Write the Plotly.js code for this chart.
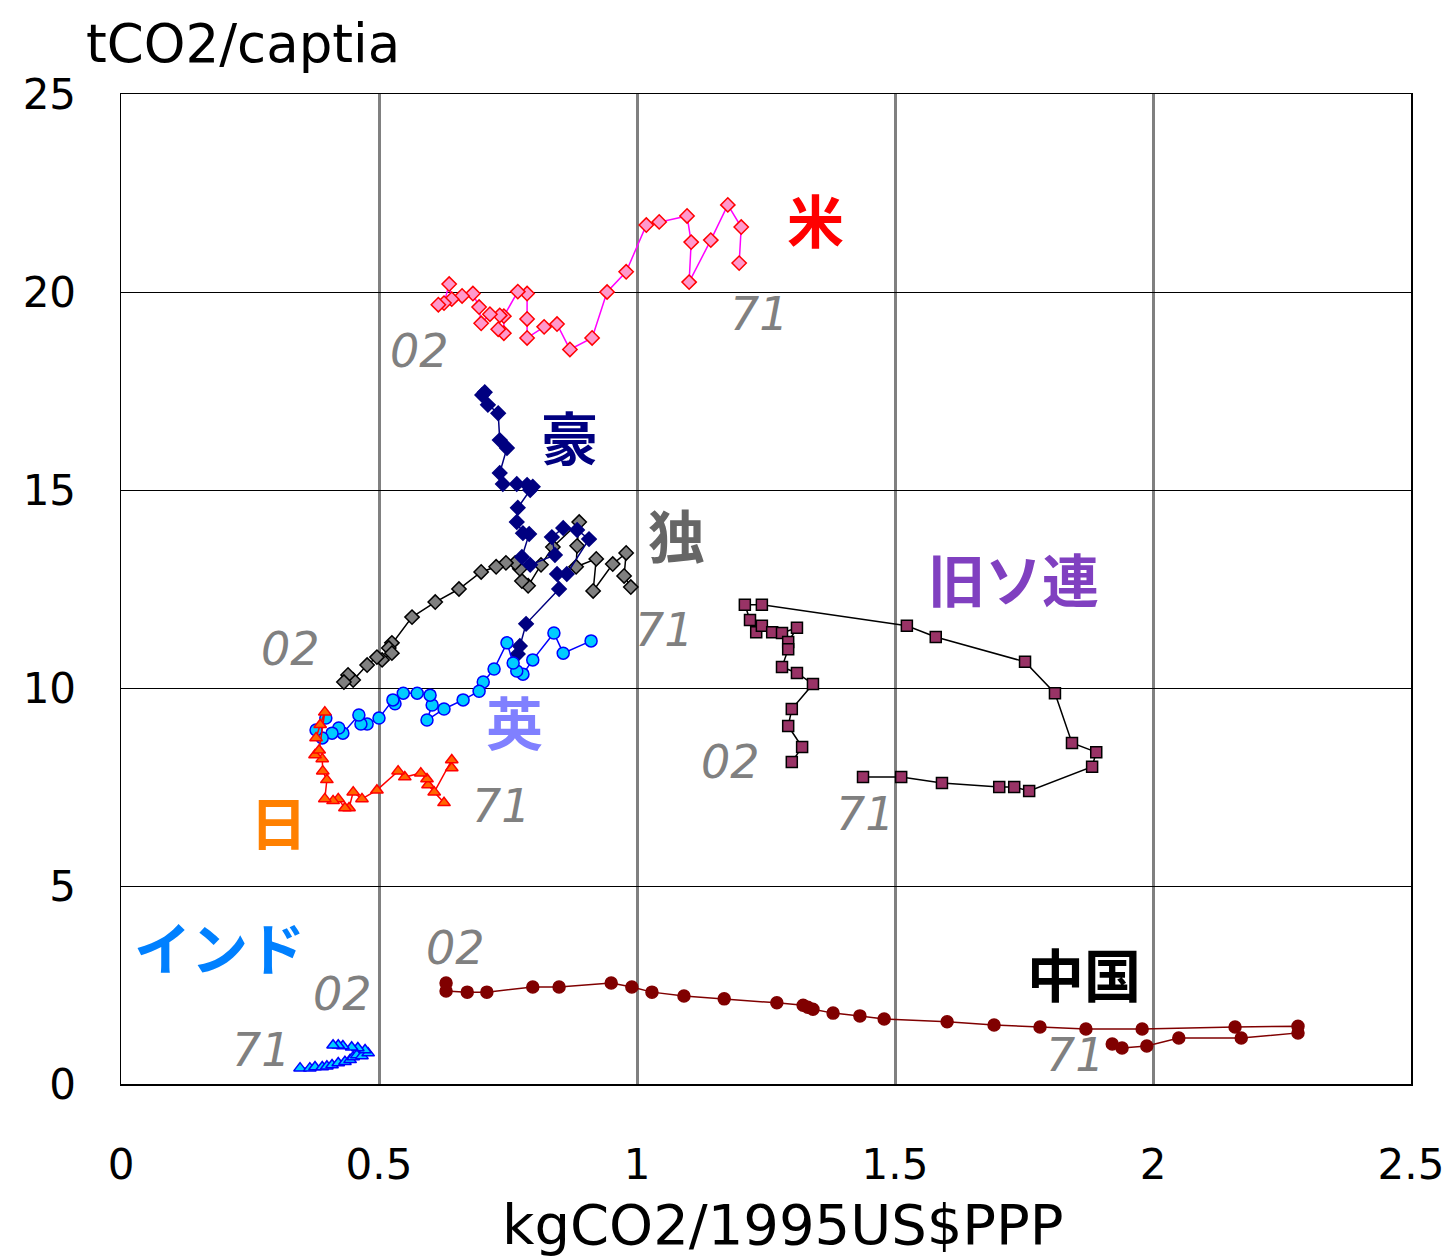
<!DOCTYPE html>
<html>
<head>
<meta charset="utf-8">
<script src="https://cdn.plot.ly/plotly-3.0.1.min.js"></script>
<style>html,body{margin:0;padding:0;background:#fff;}#chart{width:1452px;height:1260px;}</style>
</head>
<body>
<div id="chart"></div>
<script>
// Carbon intensity (kgCO2/1995US$PPP) vs per-capita emissions (tCO2/capita), 1971-2002
const usX = [1.198,1.202,1.176,1.143,1.101,1.105,1.097,1.043,1.018,0.979,0.942,0.913,0.870,0.845,0.820,0.787,0.787,0.787,0.769,0.742,0.742,0.731,0.734,0.715,0.698,0.694,0.682,0.661,0.641,0.636,0.626,0.615];
const usY = [20.73,21.64,22.20,21.31,20.25,21.26,21.92,21.77,21.69,20.51,20.00,18.84,18.55,19.19,19.12,18.84,19.32,19.96,20.01,19.39,18.96,19.06,19.41,19.44,19.21,19.62,19.96,19.90,19.82,20.20,19.72,19.68];

const auX = [0.769,0.773,0.785,0.849,0.845,0.864,0.907,0.884,0.857,0.835,0.841,0.793,0.777,0.791,0.779,0.767,0.769,0.793,0.798,0.787,0.767,0.740,0.734,0.748,0.734,0.731,0.711,0.700,0.705];
const auY = [10.86,11.06,11.62,12.50,12.88,12.88,13.76,13.99,14.04,13.81,13.36,13.11,13.31,13.89,13.91,14.19,14.55,15.00,15.08,15.13,15.15,15.15,15.43,16.06,16.26,16.94,17.15,17.40,17.47];

const deX = [0.988,0.975,0.979,0.953,0.915,0.921,0.882,0.884,0.888,0.837,0.814,0.789,0.777,0.773,0.764,0.746,0.727,0.698,0.655,0.609,0.564,0.525,0.519,0.525,0.506,0.496,0.477,0.450,0.440,0.432];
const deY = [12.55,12.83,13.41,13.13,12.45,13.26,13.06,13.59,14.19,13.56,13.11,12.58,12.70,13.01,13.16,13.16,13.06,12.93,12.50,12.17,11.79,11.14,11.01,10.88,10.71,10.78,10.58,10.20,10.33,10.15];

const ukX = [0.911,0.857,0.839,0.798,0.779,0.767,0.760,0.748,0.723,0.702,0.694,0.663,0.626,0.593,0.603,0.599,0.574,0.547,0.531,0.527,0.500,0.477,0.465,0.461,0.430,0.422,0.409,0.390,0.378,0.397];
const ukY = [11.19,10.88,11.39,10.71,10.35,10.43,10.63,11.14,10.48,10.15,9.92,9.70,9.47,9.19,9.57,9.82,9.87,9.87,9.60,9.70,9.24,9.09,9.09,9.32,8.86,8.99,8.86,8.74,8.94,9.24];

const jpX = [0.641,0.641,0.607,0.626,0.595,0.593,0.581,0.550,0.537,0.496,0.467,0.450,0.442,0.434,0.421,0.411,0.395,0.399,0.391,0.390,0.376,0.384,0.395,0.386,0.378];
const jpY = [7.98,8.18,7.37,7.10,7.55,7.70,7.85,7.75,7.90,7.42,7.20,7.37,6.97,6.97,7.20,7.15,7.20,7.68,7.90,8.21,8.31,8.43,9.39,9.07,8.74];

const inX = [0.347,0.366,0.376,0.390,0.399,0.409,0.421,0.434,0.444,0.450,0.457,0.467,0.479,0.473,0.459,0.447,0.430,0.421,0.411];
const inY = [0.40,0.40,0.43,0.43,0.45,0.48,0.53,0.56,0.61,0.68,0.73,0.71,0.78,0.86,0.91,0.93,0.96,0.98,0.98];

const suX = [1.438,1.512,1.591,1.702,1.731,1.760,1.882,1.890,1.843,1.810,1.752,1.579,1.523,1.242,1.209,1.219,1.231,1.242,1.262,1.281,1.310,1.293,1.293,1.281,1.310,1.341,1.300,1.293,1.320,1.300];
const suY = [7.75,7.75,7.60,7.50,7.50,7.40,8.01,8.38,8.61,9.87,10.66,11.29,11.57,12.10,12.10,11.72,11.41,11.57,11.41,11.39,11.52,11.16,10.98,10.53,10.38,10.10,9.47,9.04,8.51,8.13];

const cnX = [1.921,1.940,1.988,2.050,2.171,2.281,2.281,2.159,1.979,1.870,1.781,1.692,1.601,1.479,1.432,1.380,1.341,1.331,1.322,1.271,1.169,1.091,1.029,0.990,0.950,0.849,0.798,0.709,0.671,0.630,0.630];
const cnY = [1.01,0.91,0.96,1.16,1.16,1.29,1.46,1.44,1.39,1.39,1.44,1.49,1.57,1.64,1.72,1.79,1.89,1.94,1.99,2.05,2.15,2.22,2.32,2.45,2.55,2.45,2.45,2.32,2.32,2.35,2.55];

const xTicks = [0, 0.5, 1, 1.5, 2, 2.5];
const xTickText = ['0', '0.5', '1', '1.5', '2', '2.5'];
const yTicks = [0, 5, 10, 15, 20, 25];

const countryNames = ['米', '豪', '独', '旧ソ連', '英', '日', 'インド', '中国'];
const countryColors = ['#ff0000', '#000080', '#666666', '#8040c0', '#8080ff', '#ff8000', '#0080ff', '#000000'];
const countryX = [1.345, 0.870, 1.076, 1.729, 0.762, 0.306, 0.191, 1.866];
const countryY = [21.87, 16.39, 13.91, 12.80, 9.19, 6.67, 3.51, 2.83];

const yearText = ['71', '02', '02', '71', '71', '71', '02', '02', '02', '71', '71'];
const yearX = [1.238, 0.579, 0.328, 1.054, 0.738, 1.442, 1.181, 0.649, 0.430, 0.273, 1.849];
const yearY = [19.45, 18.50, 10.98, 11.47, 7.03, 6.83, 8.13, 3.44, 2.28, 0.87, 0.74];

function series(x, y, lineColor, symbol, fill, outline, size) {
  return {
    x: x, y: y, type: 'scatter', mode: 'lines+markers',
    line: {color: lineColor, width: 1.5},
    marker: {symbol: symbol, color: fill, size: size, line: {color: outline, width: 1.5}},
    hoverinfo: 'x+y', showlegend: false
  };
}

const data = [
  series(usX, usY, '#ff00ff', 'diamond', '#ff99cc', '#ff0000', 11),
  series(deX, deY, '#000000', 'diamond', '#808080', '#000000', 11),
  series(auX, auY, '#000080', 'diamond', '#000080', '#000080', 11),
  series(ukX, ukY, '#0000ff', 'circle', '#00ccff', '#0000ff', 12),
  series(jpX, jpY, '#ff0000', 'triangle-up', '#ff6600', '#ff0000', 11),
  series(inX, inY, '#0000ff', 'triangle-up', '#00ccff', '#0000ff', 11),
  series(suX, suY, '#000000', 'square', '#993366', '#000000', 11),
  series(cnX, cnY, '#800000', 'circle', '#800000', '#800000', 12)
];

const annotations = [];
for (let i = 0; i < countryNames.length; i++) {
  annotations.push({
    x: countryX[i], y: countryY[i], xref: 'x', yref: 'y', text: '<b>' + countryNames[i] + '</b>',
    showarrow: false, font: {family: 'Noto Sans CJK JP', size: 57, color: countryColors[i]}
  });
}
for (let i = 0; i < yearText.length; i++) {
  annotations.push({
    x: yearX[i], y: yearY[i], xref: 'x', yref: 'y', text: '<i>' + yearText[i] + '</i>',
    showarrow: false, font: {family: 'DejaVu Sans', size: 46, color: '#808080'}
  });
}
annotations.push({
  x: 0, y: 1, xref: 'paper', yref: 'paper', xanchor: 'left', yanchor: 'bottom', xshift: -37, yshift: 18,
  text: 'tCO2/captia', showarrow: false, font: {family: 'DejaVu Sans', size: 53, color: '#000000'}
});
annotations.push({
  x: 0.513, y: 0, xref: 'paper', yref: 'paper', xanchor: 'center', yanchor: 'top', yshift: -106,
  text: 'kgCO2/1995US$PPP', showarrow: false, font: {family: 'DejaVu Sans', size: 56, color: '#000000'}
});

const layout = {
  width: 1452, height: 1260,
  margin: {l: 121, r: 41, t: 94, b: 176, pad: 0},
  paper_bgcolor: '#ffffff', plot_bgcolor: '#ffffff',
  font: {family: 'DejaVu Sans', color: '#000000'},
  xaxis: {
    range: [0, 2.5], tickvals: xTicks, ticktext: xTickText, ticks: '', ticklabelstandoff: 43,
    showgrid: true, gridcolor: '#808080', gridwidth: 3, zeroline: false,
    showline: true, linecolor: '#000000', linewidth: 1.5, mirror: true,
    tickfont: {family: 'DejaVu Sans', size: 42, color: '#000000'}
  },
  yaxis: {
    range: [0, 25], tickvals: yTicks, ticks: '', ticklabelstandoff: 35,
    showgrid: true, gridcolor: '#000000', gridwidth: 1, zeroline: false,
    showline: true, linecolor: '#000000', linewidth: 1.5, mirror: true,
    tickfont: {family: 'DejaVu Sans', size: 42, color: '#000000'}
  },
  annotations: annotations
};

Plotly.newPlot('chart', data, layout, {displayModeBar: false, staticPlot: true});
</script>
</body>
</html>
